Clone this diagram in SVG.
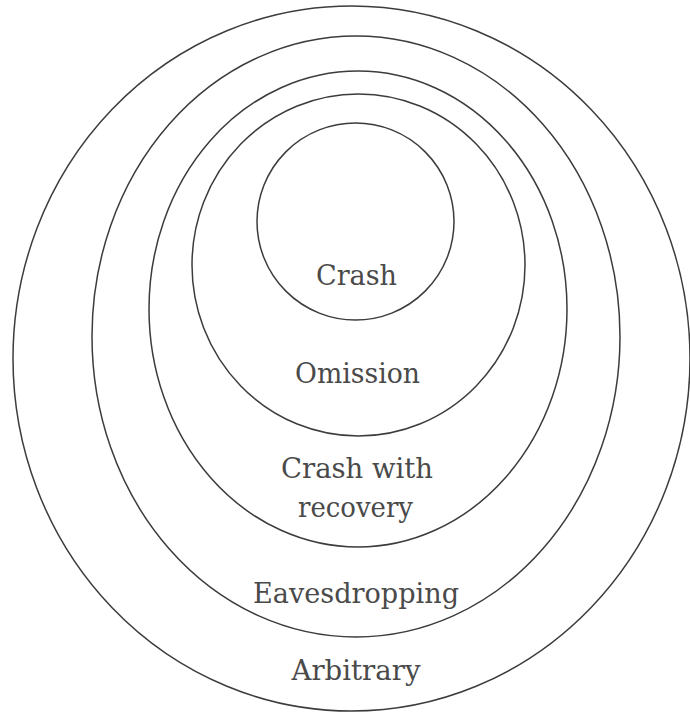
<svg xmlns="http://www.w3.org/2000/svg" width="690" height="713" viewBox="0 0 690 713">
  <style>
    .ring { fill: none; stroke: #3c3c3c; stroke-width: 1.5; }
    .label { font-family: "DejaVu Serif", "Liberation Serif", serif; font-size: 28px; fill: #4a4a4a; text-anchor: middle; }
  </style>
  <rect width="690" height="713" fill="#ffffff"/>

  <!-- Nested fault classes, outermost first -->
  <g id="arbitrary">
    <ellipse class="ring" cx="351.5" cy="358.5" rx="338.5" ry="352.5"/>
    <text class="label" x="356" y="680" textLength="129" lengthAdjust="spacingAndGlyphs">Arbitrary</text>
  </g>
  <g id="eavesdropping">
    <ellipse class="ring" cx="356" cy="336.5" rx="264" ry="300.5"/>
    <text class="label" x="356" y="603" textLength="206" lengthAdjust="spacingAndGlyphs">Eavesdropping</text>
  </g>
  <g id="crash-with-recovery">
    <ellipse class="ring" cx="358" cy="309" rx="209" ry="238"/>
    <text class="label" x="357" y="478" textLength="152" lengthAdjust="spacingAndGlyphs">Crash with</text>
    <text class="label" x="355.5" y="517" textLength="115" lengthAdjust="spacingAndGlyphs">recovery</text>
  </g>
  <g id="omission">
    <ellipse class="ring" cx="358.5" cy="265" rx="166.5" ry="171"/>
    <text class="label" x="357.5" y="383" textLength="125" lengthAdjust="spacingAndGlyphs">Omission</text>
  </g>
  <g id="crash">
    <circle class="ring" cx="355.5" cy="221.5" r="98.5"/>
    <text class="label" x="356.5" y="285" textLength="81" lengthAdjust="spacingAndGlyphs">Crash</text>
  </g>

  <g id="connectors"/>
</svg>
